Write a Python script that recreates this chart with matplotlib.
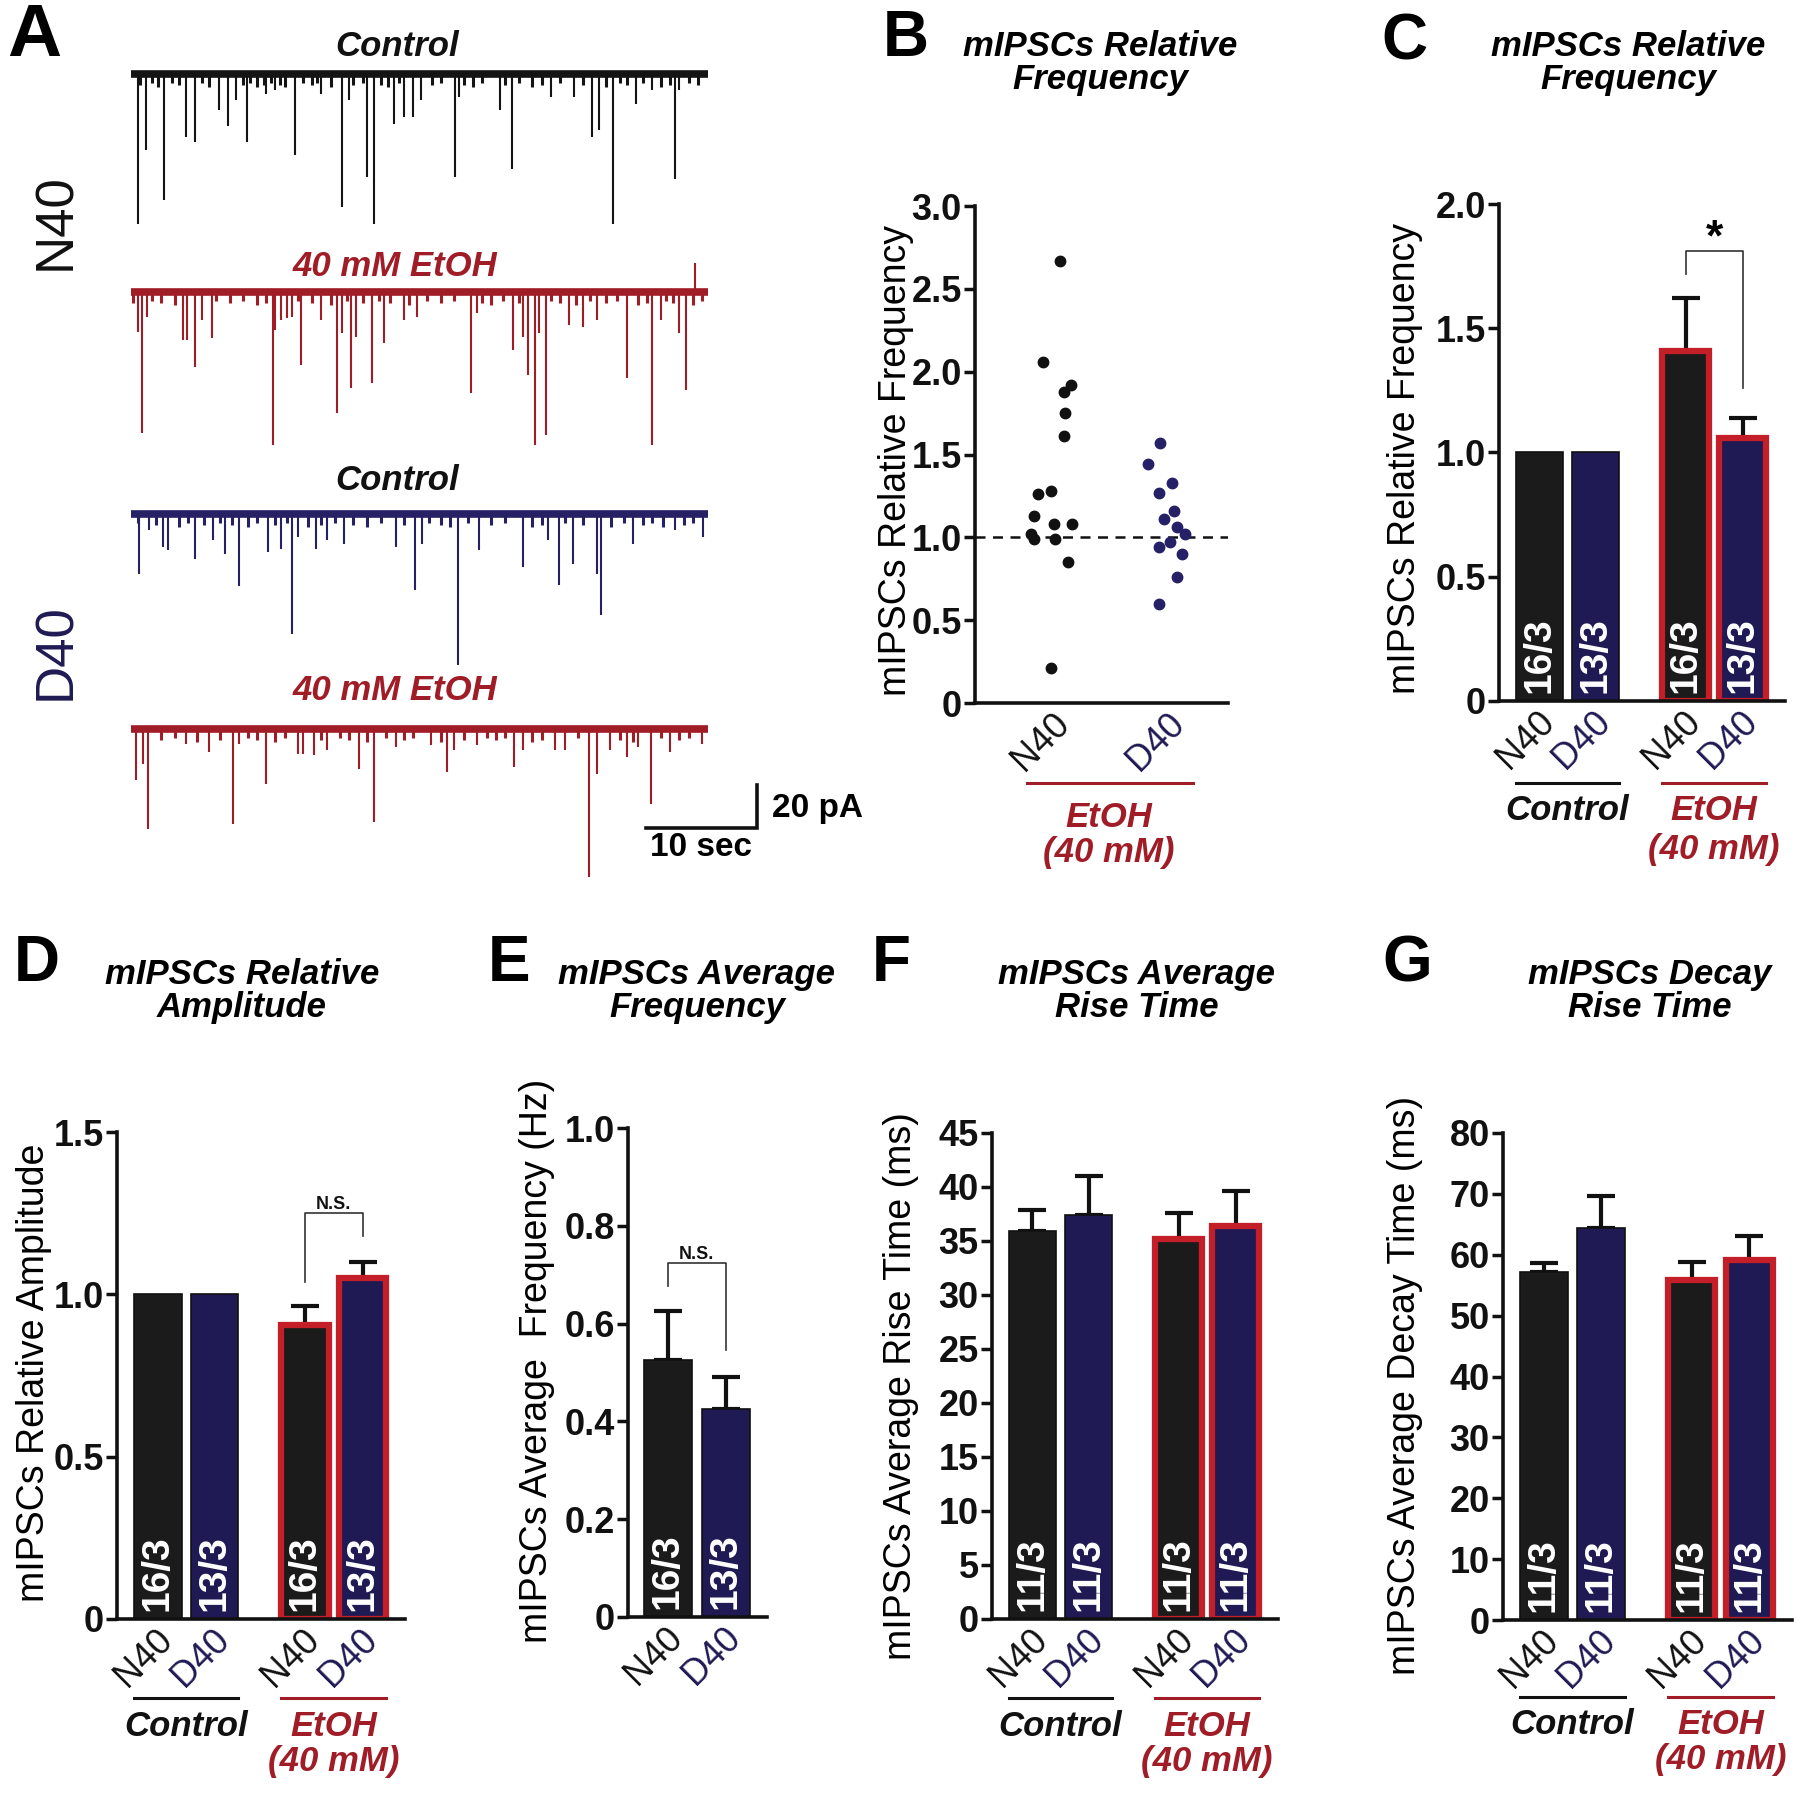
import matplotlib
matplotlib.use("Agg")
import matplotlib.pyplot as plt
import matplotlib.transforms as mtransforms
import numpy as np

W, H = 1800, 1797
DPI = 100

plt.rcParams['font.family'] = ['Liberation Sans', 'DejaVu Sans']

BLACK = '#1b1b1b'
NAVY = '#201a54'
RED = '#c41f28'
DARKRED = '#a01d27'

# ---------------- data ----------------
# panel A: mIPSC events (time in s, amplitude in pA, downward positive)
trace_len = 51.8

n40_ctrl_t = [0.43, 1.17, 2.83, 4.77, 5.60, 7.79, 8.57, 9.32, 10.23, 12.01, 12.83, 14.61,
              16.97, 18.83, 19.45, 21.10, 21.73, 23.50, 24.41, 25.24, 25.98, 29.05, 29.38,
              33.10, 34.13, 37.65, 39.72, 41.37, 41.99, 43.23, 45.30, 46.75, 48.81, 49.23]
n40_ctrl_amp = [70.5, 36.4, 59.4, 30.2, 32.6, 17.8, 25.3, 13.2, 32.6, 10.1, 8.5, 38.8,
                10.1, 62.8, 13.2, 48.8, 70.5, 24.0, 20.9, 20.9, 13.2, 48.8, 11.6,
                17.8, 45.0, 11.6, 11.6, 30.2, 27.1, 70.5, 14.7, 8.5, 49.6, 8.5]
n40_ctrl_small_t = [0.63, 1.67, 2.29, 3.53, 4.15, 6.22, 6.84, 9.94, 10.56, 11.18, 11.80,
                    12.42, 13.25, 13.66, 15.32, 16.14, 16.56, 17.80, 19.86, 20.69, 22.35,
                    22.97, 24.00, 26.90, 27.72, 29.79, 30.62, 31.44, 33.51, 34.75, 35.99,
                    36.82, 38.47, 40.54, 42.61, 43.85, 44.47, 45.92, 47.57, 48.40, 50.05,
                    50.88]
n40_ctrl_small_amp = [6, 5, 7, 5, 6, 5, 7, 6, 5, 7, 6, 5, 6, 7, 5, 6, 5, 7, 6, 5, 6,
                      7, 5, 6, 5, 6, 7, 5, 6, 5, 7, 6, 5, 6, 7, 5, 6, 5, 7, 6, 5, 6]

n40_etoh_t = [0.43, 0.84, 1.25, 4.48, 4.89, 5.60, 6.22, 7.13, 12.63, 12.83, 13.33, 13.87,
              14.36, 15.11, 16.97, 18.42, 18.83, 19.66, 20.07, 21.52, 22.64, 24.41, 25.57,
              30.49, 31.03, 34.26, 35.17, 35.58, 36.20, 36.62, 37.23, 39.30, 40.54, 41.78,
              44.47, 46.75, 47.57, 49.23, 49.85, 50.67]
n40_etoh_amp = [19.4, 66.7, 12.4, 23.3, 23.3, 35.7, 14.0, 22.5, 72.1, 18.6, 14.0, 13.2,
                12.4, 34.9, 14.0, 57.4, 20.2, 45.7, 21.7, 43.4, 24.8, 14.0, 12.4,
                48.1, 10.9, 27.9, 21.7, 39.5, 72.1, 20.2, 67.4, 16.3, 17.1, 14.0,
                41.1, 72.1, 14.0, 20.2, 46.5, -12.4]
n40_etoh_small_t = [0.01, 1.67, 2.49, 3.74, 7.46, 8.70, 9.94, 11.18, 12.01, 14.90, 16.14,
                    17.80, 19.24, 20.69, 22.14, 23.17, 24.83, 26.48, 27.72, 28.96, 31.44,
                    32.27, 33.30, 34.75, 37.65, 38.47, 39.92, 41.16, 42.61, 43.64, 45.50,
                    46.33, 47.99, 48.61, 50.47, 51.29]
n40_etoh_small_amp = [6, 5, 6, 7, 5, 6, 5, 7, 6, 5, 6, 7, 5, 6, 5, 6, 7, 5, 6, 5, 6,
                      7, 5, 6, 5, 6, 7, 5, 6, 5, 7, 6, 5, 6, 7, 5]

d40_ctrl_t = [0.55, 1.46, 2.70, 3.11, 5.60, 7.25, 8.28, 9.53, 12.13, 13.37, 14.28, 14.90,
              16.47, 17.47, 19.04, 23.67, 25.45, 26.07, 29.29, 31.15, 35.17, 37.36, 38.39,
              39.63, 41.78, 42.20, 45.09, 48.81, 51.38]
d40_ctrl_amp = [28.7, 8.5, 16.3, 17.8, 21.7, 13.2, 19.4, 34.6, 18.6, 17.1, 56.6, 11.6,
                17.1, 13.2, 14.7, 16.3, 36.1, 14.7, 71.3, 17.8, 25.6, 13.2, 34.1,
                24.0, 28.7, 48.1, 14.7, 8.5, 11.6]
d40_ctrl_small_t = [0.43, 2.08, 4.15, 4.98, 6.42, 7.87, 8.90, 10.35, 11.18, 12.83, 13.87,
                    15.73, 16.97, 18.21, 19.86, 21.10, 22.35, 24.41, 26.69, 27.72, 28.55,
                    30.20, 32.27, 33.51, 35.99, 36.82, 38.89, 40.54, 43.02, 44.26, 45.92,
                    46.75, 47.78, 49.64, 50.47]
d40_ctrl_small_amp = [5, 6, 7, 5, 6, 5, 6, 7, 5, 6, 5, 7, 6, 5, 6, 7, 5, 6, 5, 6, 7,
                      5, 6, 5, 7, 6, 5, 6, 7, 5, 6, 5, 7, 6, 5]

d40_etoh_t = [0.30, 0.92, 1.34, 4.77, 6.84, 8.99, 9.53, 12.01, 14.82, 15.32, 16.35, 17.47,
              20.40, 21.73, 23.71, 26.89, 28.26, 28.96, 31.03, 34.34, 35.17, 38.06, 38.89,
              41.08, 41.78, 42.98, 44.47, 45.50, 46.66, 48.40, 51.30]
d40_etoh_amp = [24.8, 17.1, 47.3, 7.8, 11.6, 45.0, 7.8, 26.4, 12.4, 12.4, 13.2, 10.9,
                19.4, 44.2, 9.3, 8.5, 20.9, 10.9, 8.5, 18.6, 10.9, 10.9, 10.9,
                69.8, 21.7, 10.9, 14.0, 9.3, 35.7, 11.6, 7.8]
d40_etoh_small_t = [2.49, 3.74, 5.80, 7.87, 10.35, 11.18, 12.83, 13.66, 16.97, 18.62, 19.45,
                    21.10, 22.76, 24.41, 25.24, 27.72, 29.79, 31.86, 32.69, 33.51, 35.99,
                    36.82, 40.13, 43.85, 45.09, 47.57, 49.23, 50.05]
d40_etoh_small_amp = [6, 5, 7, 6, 5, 6, 7, 5, 6, 5, 6, 7, 5, 6, 5, 7, 6, 5, 6, 5, 7,
                      6, 5, 6, 7, 5, 6, 5]

# panel B: relative frequency per cell (EtOH / control)
b_n40 = [2.67, 2.06, 1.88, 1.92, 1.75, 1.61, 1.26, 1.28, 1.13, 1.02, 0.99, 1.08, 1.08,
         0.99, 0.85, 0.21]
b_n40_dx = [0.067, -0.079, 0.102, 0.167, 0.117, 0.108, -0.123, -0.006, -0.161, -0.184,
            -0.155, 0.015, 0.170, 0.029, 0.137, -0.009]
b_d40 = [1.57, 1.44, 1.33, 1.27, 1.16, 1.11, 1.06, 1.02, 0.97, 0.94, 0.90, 0.76, 0.60]
b_d40_dx = [-0.058, -0.164, 0.050, -0.067, 0.064, -0.018, 0.094, 0.167, 0.035, -0.067,
            0.137, 0.094, -0.067]

groups = ["N40", "D40", "N40", "D40"]

c_mean = [1.0, 1.0, 1.41, 1.06]
c_sem = [0.0, 0.0, 0.21, 0.08]
c_n = ["16/3", "13/3", "16/3", "13/3"]

d_mean = [1.0, 1.0, 0.905, 1.05]
d_sem = [0.0, 0.0, 0.06, 0.05]
d_n = ["16/3", "13/3", "16/3", "13/3"]

e_mean = [0.525, 0.425]
e_sem = [0.10, 0.065]
e_n = ["16/3", "13/3"]

f_mean = [35.9, 37.4, 35.2, 36.4]
f_sem = [2.0, 3.6, 2.4, 3.2]
f_n = ["11/3", "11/3", "11/3", "11/3"]

g_mean = [57.1, 64.4, 55.9, 59.2]
g_sem = [1.5, 5.3, 2.9, 3.9]
g_n = ["11/3", "11/3", "11/3", "11/3"]

# ---------------- helpers ----------------
fig = plt.figure(figsize=(W / DPI, H / DPI), dpi=DPI)


def fy(py):
    return 1 - py / H


def add_ax(l, t, r, b):
    return fig.add_axes([l / W, 1 - b / H, (r - l) / W, (b - t) / H])


def ftext(x, y, s, **kw):
    fig.text(x / W, fy(y), s, **kw)


TITLE = dict(fontsize=25, fontweight='bold', style='italic', ha='center', va='top',
             linespacing=1.0)
LETTER = dict(fontsize=46, fontweight='bold', ha='center', va='center')
YLAB = dict(fontsize=27, rotation=90, ha='center', va='center')
GROUP = dict(fontsize=25, fontweight='bold', style='italic', ha='center', va='center')


def style_axis(ax, ylim, yticks, ylabels, xlim):
    ax.set_xlim(xlim)
    ax.set_ylim(ylim)
    ax.set_yticks(yticks)
    ax.set_yticklabels(ylabels, fontsize=26, fontweight='bold')
    ax.set_xticks([])
    for sp in ['top', 'right']:
        ax.spines[sp].set_visible(False)
    for sp in ['left', 'bottom']:
        ax.spines[sp].set_linewidth(2.6)
        ax.spines[sp].set_color('#111111')
    ax.tick_params(axis='y', length=8, width=2.5, pad=1.5, colors='#111111')


def x_labels(ax, pos, labels, dx=-2):
    for p, lab in zip(pos, labels):
        ax.annotate(lab, xy=(p, 0), xytext=(dx, -2), textcoords='offset points',
                    rotation=45, ha='right', va='top', rotation_mode='anchor',
                    fontsize=26, color=NAVY if lab == "D40" else '#111111',
                    annotation_clip=False)


def bars(ax, pos, means, sems, ns, etoh):
    cols = [BLACK, NAVY, BLACK, NAVY]
    for i, (p, m, s, n) in enumerate(zip(pos, means, sems, ns)):
        red = i in etoh
        ax.bar(p, m, width=0.84, color=cols[i % 2],
               edgecolor=RED if red else '#111111', linewidth=4.5 if red else 1.2,
               zorder=2)
        if s > 0:
            ax.errorbar(p, m, yerr=[[0], [s]], color='#111111', lw=3, capsize=10,
                        capthick=3, zorder=1)
        ax.annotate(n, xy=(p, 0), xytext=(0, 6), textcoords='offset points',
                    rotation=90, ha='center', va='bottom', color='white',
                    fontsize=28, fontweight='bold',
                    family=['Liberation Sans Narrow', 'Liberation Sans'], zorder=3)


def group_label(ax, x0, x1, y_line, color, lines):
    trans = mtransforms.blended_transform_factory(ax.transData, fig.transFigure)
    ax.plot([x0, x1], [fy(y_line)] * 2, transform=trans, color=color, lw=2.2,
            clip_on=False)
    for text, y in lines:
        ax.text((x0 + x1) / 2, fy(y), text, transform=trans, color=color, **GROUP)


def bracket(ax, xl, xr, yl, ytop, yr, label, size):
    ax.plot([xl, xl, xr, xr], [yl, ytop, ytop, yr], color='#333333', lw=1.2,
            clip_on=False, zorder=4)
    ax.text((xl + xr) / 2, ytop, label, ha='center', va='bottom', fontsize=size,
            fontweight='bold', color='#111111')


# ---------------- panel A ----------------
px_per_s = 111 / 10
pa_per_px = 20 / 43
x0 = 133


def trace_ax(base_px):
    ax = add_ax(110, base_px - 45, 830, base_px + 170)
    ax.set_xlim((110 - x0) / px_per_s, (830 - x0) / px_per_s)
    ax.set_ylim(-170 * pa_per_px, 45 * pa_per_px)
    ax.axis('off')
    return ax


traces = [(72, n40_ctrl_t, n40_ctrl_amp, n40_ctrl_small_t, n40_ctrl_small_amp, '#141414'),
          (290, n40_etoh_t, n40_etoh_amp, n40_etoh_small_t, n40_etoh_small_amp, DARKRED),
          (512, d40_ctrl_t, d40_ctrl_amp, d40_ctrl_small_t, d40_ctrl_small_amp, '#262064'),
          (727, d40_etoh_t, d40_etoh_amp, d40_etoh_small_t, d40_etoh_small_amp, DARKRED)]
trace_axes = []
for base, ts, amps, sts, samps, col in traces:
    ax = trace_ax(base)
    ax.plot([-0.2, trace_len], [-1, -1], color=col, lw=5.5, solid_capstyle='butt')
    ax.vlines(sts, 0, -np.array(samps), color=col, lw=2.2)
    ax.vlines(ts, 0, -np.array(amps), color=col, lw=1.5)
    trace_axes.append(ax)

# scale bar
sb = trace_axes[3]
sb.plot([46.2, 56.2, 56.2], [-47, -47, -27], color='#111111', lw=2.6,
        solid_joinstyle='miter')
sb.text(57.6, -38, "20 pA", fontsize=24, fontweight='bold', ha='left', va='center')
sb.text(51.2, -56, "10 sec", fontsize=24, fontweight='bold', ha='center', va='center')

ftext(34, 37, "A", fontsize=54, fontweight='bold', ha='center', va='center')
ftext(56, 222, "N40", fontsize=38, rotation=90, ha='center', va='center', color='#111111')
ftext(56, 652, "D40", fontsize=38, rotation=90, ha='center', va='center', color=NAVY)
TR = dict(fontsize=25, fontweight='bold', style='italic', ha='center', va='center')
ftext(397, 47, "Control", color='#111111', **TR)
ftext(395, 266, "40 mM EtOH", color=DARKRED, **TR)
ftext(397, 480, "Control", color='#111111', **TR)
ftext(395, 690, "40 mM EtOH", color=DARKRED, **TR)

# ---------------- panel B ----------------
axb = add_ax(975, 206, 1228, 703)
style_axis(axb, (0, 3.0), [0, 0.5, 1.0, 1.5, 2.0, 2.5, 3.0],
           ["0", "0.5", "1.0", "1.5", "2.0", "2.5", "3.0"], (0.325, 2.54))
axb.axhline(1.0, color='#111111', lw=1.8, ls=(0, (4, 3)), zorder=1)
axb.plot(1 + np.array(b_n40_dx), b_n40, 'o', color='#111111', ms=7.5, zorder=3,
         clip_on=False)
axb.plot(2 + np.array(b_d40_dx), b_d40, 'o', color='#262066', ms=7.5, zorder=3,
         clip_on=False)
x_labels(axb, [1, 2], ["N40", "D40"], dx=0)
trans_b = mtransforms.blended_transform_factory(axb.transData, fig.transFigure)
axb.plot([0.78, 2.23], [fy(783)] * 2, transform=trans_b, color=DARKRED, lw=2.2,
         clip_on=False)
axb.text(1.5, fy(817), "EtOH", transform=trans_b, color=DARKRED, **GROUP)
axb.text(1.5, fy(853), "(40 mM)", transform=trans_b, color=DARKRED, **GROUP)
ftext(906, 39, "B", **LETTER)
ftext(1100, 30, "mIPSCs Relative\nFrequency", **TITLE)
ftext(896, 461, "mIPSCs Relative Frequency", **YLAB)

pos4 = [0, 1, 2.6, 3.62]
xlim4 = (-0.72, 4.37)

# ---------------- panel C ----------------
axc = add_ax(1499, 204, 1785, 701)
style_axis(axc, (0, 2.0), [0, 0.5, 1.0, 1.5, 2.0], ["0", "0.5", "1.0", "1.5", "2.0"],
           xlim4)
bars(axc, pos4, c_mean, c_sem, c_n, etoh=[2, 3])
bracket(axc, pos4[2], pos4[3], 1.72, 1.81, 1.26, "", 12)
axc.text((pos4[2] + pos4[3]) / 2, 1.86, "*", ha='center', va='center', fontsize=32,
         fontweight='bold')
x_labels(axc, pos4, groups)
group_label(axc, -0.42, 1.42, 783, '#111111', [("Control", 810)])
group_label(axc, 2.18, 4.04, 783, DARKRED, [("EtOH", 810), ("(40 mM)", 849)])
ftext(1404, 42, "C", **LETTER)
ftext(1628, 30, "mIPSCs Relative\nFrequency", **TITLE)
ftext(1405, 459, "mIPSCs Relative Frequency", **YLAB)

# ---------------- panel D ----------------
axd = add_ax(117, 1132, 405, 1619)
style_axis(axd, (0, 1.5), [0, 0.5, 1.0, 1.5], ["0", "0.5", "1.0", "1.5"], xlim4)
bars(axd, pos4, d_mean, d_sem, d_n, etoh=[2, 3])
bracket(axd, pos4[2], pos4[3], 1.037, 1.25, 1.18, "N.S.", 13)
x_labels(axd, pos4, groups)
group_label(axd, -0.42, 1.42, 1698, '#111111', [("Control", 1726)])
group_label(axd, 2.18, 4.04, 1698, DARKRED, [("EtOH", 1726), ("(40 mM)", 1761)])
ftext(37, 964, "D", **LETTER)
ftext(242, 958, "mIPSCs Relative\nAmplitude", **TITLE)
ftext(34, 1373, "mIPSCs Relative Amplitude", **YLAB)

# ---------------- panel E ----------------
axe = add_ax(628, 1128, 767, 1617)
style_axis(axe, (0, 1.0), [0, 0.2, 0.4, 0.6, 0.8, 1.0],
           ["0", "0.2", "0.4", "0.6", "0.8", "1.0"], (-0.69, 1.71))
bars(axe, [0, 1], e_mean, e_sem, e_n, etoh=[])
bracket(axe, 0, 1, 0.676, 0.724, 0.547, "N.S.", 13)
x_labels(axe, [0, 1], ["N40", "D40"])
ftext(509, 964, "E", **LETTER)
ftext(697, 958, "mIPSCs Average\nFrequency", **TITLE)
ftext(537, 1361, "mIPSCs Average  Frequency (Hz)", **YLAB)

# ---------------- panel F ----------------
axf = add_ax(992, 1133, 1278, 1619)
style_axis(axf, (0, 45), list(range(0, 50, 5)), [str(v) for v in range(0, 50, 5)], xlim4)
bars(axf, pos4, f_mean, f_sem, f_n, etoh=[2, 3])
x_labels(axf, pos4, groups)
group_label(axf, -0.42, 1.42, 1698, '#111111', [("Control", 1726)])
group_label(axf, 2.18, 4.04, 1698, DARKRED, [("EtOH", 1726), ("(40 mM)", 1761)])
ftext(891, 964, "F", **LETTER)
ftext(1137, 958, "mIPSCs Average\nRise Time", **TITLE)
ftext(901, 1386, "mIPSCs Average Rise Time (ms)", **YLAB)

# ---------------- panel G ----------------
axg = add_ax(1503, 1133, 1792, 1620)
style_axis(axg, (0, 80), list(range(0, 90, 10)), [str(v) for v in range(0, 90, 10)], xlim4)
bars(axg, pos4, g_mean, g_sem, g_n, etoh=[2, 3])
x_labels(axg, pos4, groups)
group_label(axg, -0.42, 1.42, 1697, '#111111', [("Control", 1725)])
group_label(axg, 2.18, 4.04, 1697, DARKRED, [("EtOH", 1725), ("(40 mM)", 1760)])
ftext(1407, 964, "G", **LETTER)
ftext(1650, 958, "mIPSCs Decay\nRise Time", **TITLE)
ftext(1405, 1385, "mIPSCs Average Decay Time (ms)", **YLAB)

fig.savefig("out.png", dpi=DPI)
